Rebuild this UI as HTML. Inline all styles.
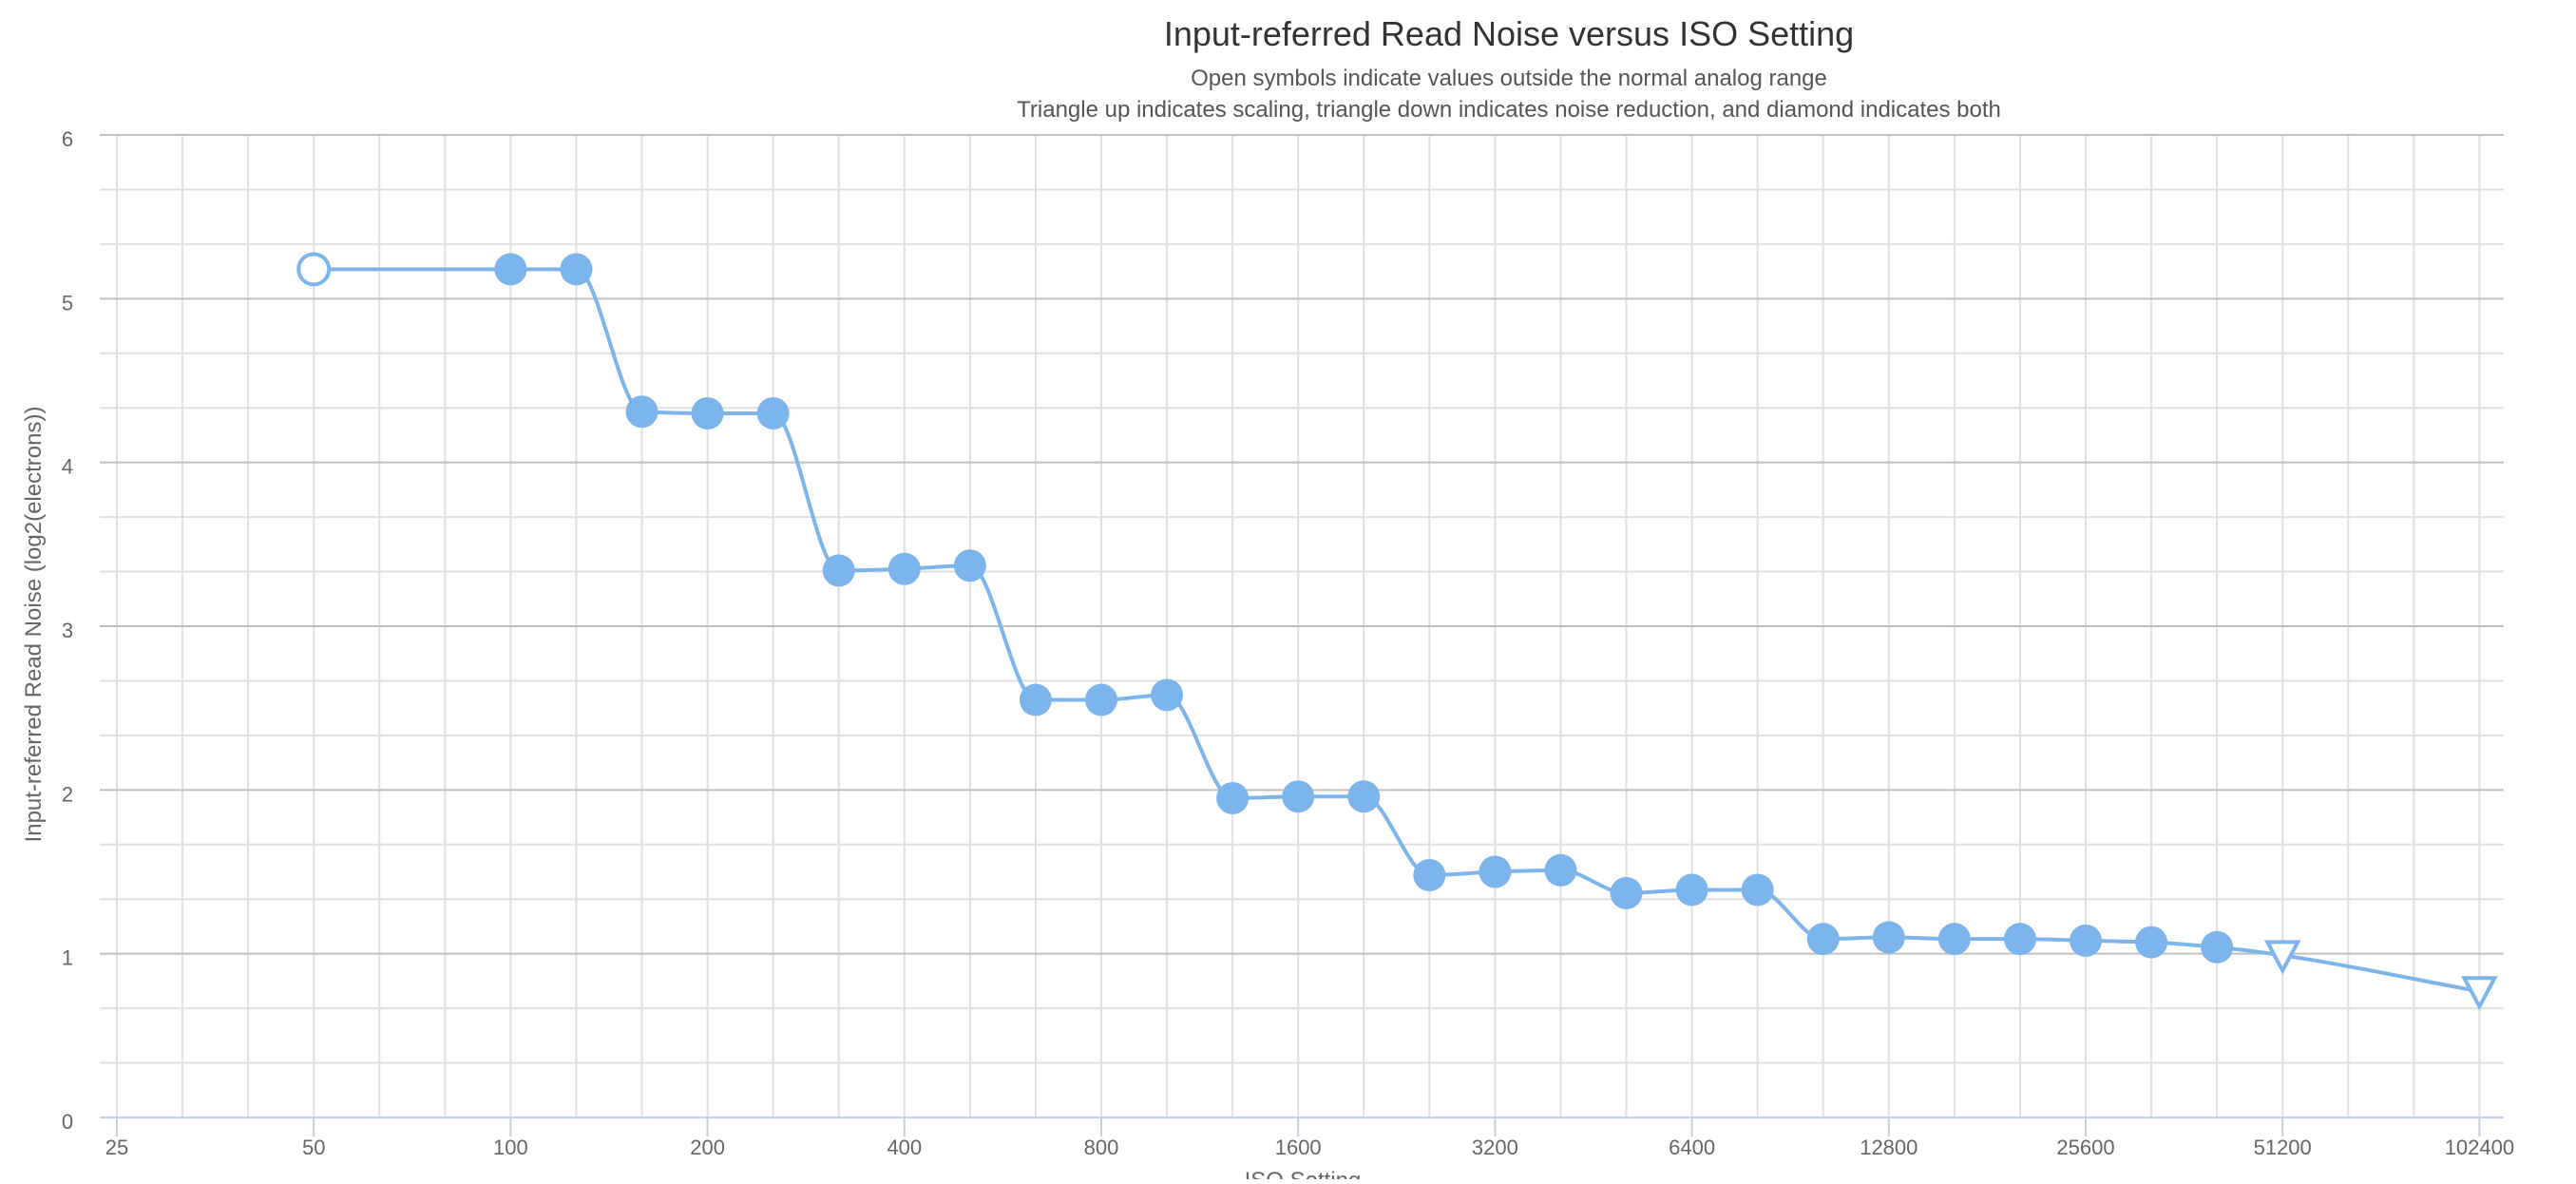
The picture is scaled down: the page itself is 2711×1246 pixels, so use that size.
<!DOCTYPE html>
<html><head><meta charset="utf-8"><style>
body{margin:0;background:#fff;width:2711px;height:1241px;overflow:hidden;font-family:"Liberation Sans",sans-serif;}
svg text{font-family:"Liberation Sans",sans-serif;}
</style></head><body>
<svg id="chart" width="2711" height="1241" xmlns="http://www.w3.org/2000/svg">
<text x="1588" y="48" text-anchor="middle" font-size="36" fill="#333">Input-referred Read Noise versus ISO Setting</text>
<text x="1588" y="90" text-anchor="middle" font-size="24" fill="#555">Open symbols indicate values outside the normal analog range</text>
<text x="1588" y="123" text-anchor="middle" font-size="24" fill="#555">Triangle up indicates scaling, triangle down indicates noise reduction, and diamond indicates both</text>
<g id="grid"></g>
<g id="axes"></g>
<path id="line" fill="none" stroke="#7cb5ec" stroke-width="4"/>
<g id="marks"></g>
<text transform="translate(43,657) rotate(-90)" text-anchor="middle" font-size="24" fill="#666">Input-referred Read Noise (log2(electrons))</text>
<text x="1371" y="1250" text-anchor="middle" font-size="24" fill="#666">ISO Setting</text>
</svg>
<script>
const isoValues=[50,100,125,160,200,250,320,400,500,640,800,1000,1250,1600,2000,2500,3200,4000,5000,6400,8000,10000,12800,16000,20000,25600,32000,40000,51200,102400];
const noiseValues=[5.18,5.18,5.18,4.31,4.30,4.30,3.34,3.35,3.37,2.55,2.55,2.58,1.95,1.96,1.96,1.48,1.50,1.51,1.37,1.39,1.39,1.09,1.10,1.09,1.09,1.08,1.07,1.04,0.99,0.77];
const markerTypes=['open','f','f','f','f','f','f','f','f','f','f','f','f','f','f','f','f','f','f','f','f','f','f','f','f','f','f','f','tri','tri'];
const xTickLabels=['25','50','100','200','400','800','1600','3200','6400','12800','25600','51200','102400'];
const yTickLabels=['0','1','2','3','4','5','6'];
const NS='http://www.w3.org/2000/svg';
const L=105,R=2635,T=142,B=1176,X0=123,OCT=207.2;
const xs=iso=>X0+Math.round(3*Math.log2(iso/25))/3*OCT;
const ys=v=>B-(v/6)*(B-T);
function mk(tag,attrs,parent){const e=document.createElementNS(NS,tag);for(const k in attrs)e.setAttribute(k,attrs[k]);parent.appendChild(e);return e;}
const grid=document.getElementById('grid'),axes=document.getElementById('axes'),marks=document.getElementById('marks');
for(let i=0;i<=36;i++){const x=X0+i*OCT/3;const g=mk('line',{x1:x,x2:x,y1:T,y2:B,stroke:'#e0e0e0','stroke-width':2},grid);
}
for(let i=0;i<=18;i++){const v=i/3,y=ys(v);const maj=i%3===0;const g=mk('line',{x1:L,x2:R,y1:y,y2:y,stroke:maj?'#c0c0c0':'#e0e0e0','stroke-width':2},grid);
}
yTickLabels.forEach((t,i)=>{const e=mk('text',{x:71,y:ys(+t)+12,'text-anchor':'middle','font-size':22,fill:'#666'},axes);e.textContent=t;
});
const base=mk('line',{x1:L,x2:R,y1:B,y2:B,stroke:'#c0d0e0','stroke-width':2},axes);

xTickLabels.forEach(t=>{const x=xs(+t);const tk=mk('line',{x1:x,x2:x,y1:B,y2:B+20,stroke:'#c0d0e0','stroke-width':2},axes);

const e=mk('text',{x:x,y:1215,'text-anchor':'middle','font-size':22,fill:'#666'},axes);e.textContent=t;
});
const px=isoValues.map(xs),py=noiseValues.map(ys),n=px.length;
const d=[],m=[];for(let i=0;i<n-1;i++)d.push((py[i+1]-py[i])/(px[i+1]-px[i]));
for(let i=0;i<n;i++){if(i===0)m.push(d[0]);else if(i===n-1)m.push(d[n-2]);else m.push(d[i-1]*d[i]<=0?0:2/(1/d[i-1]+1/d[i]));}
let p='M'+px[0]+','+py[0];
for(let i=0;i<n-1;i++){const h=(px[i+1]-px[i])/3;p+=' C'+(px[i]+h)+','+(py[i]+m[i]*h)+' '+(px[i+1]-h)+','+(py[i+1]-m[i+1]*h)+' '+px[i+1]+','+py[i+1];}
document.getElementById('line').setAttribute('d',p);
for(let i=0;i<n;i++){const x=px[i],y=py[i];let e;
if(markerTypes[i]==='tri'){e=mk('path',{d:`M${x-16},${y-14} L${x+16},${y-14} L${x},${y+16} Z`,fill:'#fff',stroke:'#7cb5ec','stroke-width':4},marks);}
else if(markerTypes[i]==='open'){e=mk('circle',{cx:x,cy:y,r:16,fill:'#fff',stroke:'#7cb5ec','stroke-width':4},marks);}
else{e=mk('circle',{cx:x,cy:y,r:17,fill:'#7cb5ec'},marks);}

}
</script>
</body></html>
